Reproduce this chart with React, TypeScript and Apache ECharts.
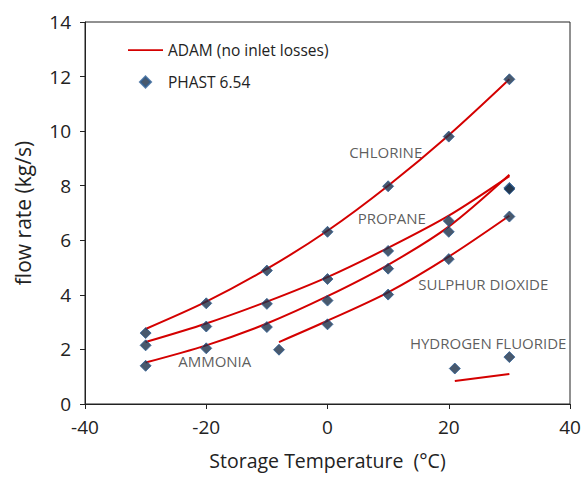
import React, { useEffect, useRef } from "react";
import * as echarts from "echarts";

const temps = [-30, -20, -10, 0, 10, 20, 30];

// ADAM (no inlet losses) model curves
const chlorineAdam = [2.75, 3.75, 4.95, 6.35, 8.0, 9.85, 11.9];
const propaneAdam = [2.27, 2.95, 3.75, 4.65, 5.72, 6.9, 8.35];
const ammoniaAdam = [1.52, 2.15, 2.95, 3.95, 5.1, 6.5, 8.4];
const so2AdamT = [-8, 0, 10, 20, 30];
const so2Adam = [2.27, 3.05, 4.09, 5.4, 6.9];
const hfAdamT = [21, 30];
const hfAdam = [0.84, 1.1];

// PHAST 6.54 points
const chlorinePhast = [2.6, 3.69, 4.89, 6.31, 7.98, 9.8, 11.9];
const propanePhast = [2.15, 2.84, 3.67, 4.58, 5.61, 6.71, 7.92];
const ammoniaPhast = [1.4, 2.04, 2.82, 3.79, 4.96, 6.31, 7.88];
const so2PhastT = [-8, 0, 10, 20, 30];
const so2Phast = [1.99, 2.92, 4.01, 5.31, 6.87];
const hfPhastT = [21, 30];
const hfPhast = [1.3, 1.72];

// Substance labels
const labelNames = ["CHLORINE", "PROPANE", "SULPHUR DIOXIDE", "AMMONIA", "HYDROGEN FLUORIDE"];
const labelX = [9.6, 10.6, 25.7, -18.6, 26.5];
const labelY = [9.25, 6.83, 4.41, 1.56, 2.25];

const xTicks = [-40, -20, 0, 20, 40];
const yTicks = [0, 2, 4, 6, 8, 10, 12, 14];

const ADAM = "ADAM (no inlet losses)";
const PHAST = "PHAST 6.54";
const FONT = "'Open Sans', 'Noto Sans', sans-serif";

const zip = (xs: number[], ys: number[]) => xs.map((x, i) => [x, ys[i]]);

export default function App() {
  const ref = useRef<HTMLDivElement>(null);
  useEffect(() => {
    if (!ref.current) return;
    const chart = echarts.init(ref.current, undefined, { renderer: "svg" });
    const lineSeries = (data: number[][]) => ({
      type: "line",
      name: ADAM,
      data,
      symbol: "none",
      smooth: 0.3,
      lineStyle: { color: "#d40000", width: 2 },
      itemStyle: { color: "#d40000" },
      z: 2,
    });
    const scatterSeries = (data: number[][]) => ({
      type: "scatter",
      name: PHAST,
      data,
      symbol: "diamond",
      symbolSize: 11,
      itemStyle: { color: "#1b2f48", borderColor: "#2e5f95", borderWidth: 1 },
      z: 3,
    });
    chart.setOption({
      animation: false,
      textStyle: { fontFamily: FONT },
      grid: {
        left: 85,
        right: 17,
        top: 22,
        bottom: 78,
        show: true,
        borderColor: "#222",
        borderWidth: 1,
      },
      legend: {
        orient: "vertical",
        left: 123,
        top: 37,
        itemWidth: 35,
        itemHeight: 11,
        itemGap: 16,
        symbolKeepAspect: true,
        textStyle: { fontSize: 15.5, color: "#222", fontFamily: FONT },
        data: [
          { name: ADAM, icon: "path://M0,0H40V2H0Z" },
          { name: PHAST, icon: "path://M5,0L10,5L5,10L0,5Z" },
        ],
      },
      xAxis: {
        type: "value",
        min: xTicks[0],
        max: xTicks[xTicks.length - 1],
        interval: 20,
        name: "Storage Temperature  (°C)",
        nameLocation: "middle",
        nameGap: 46,
        nameTextStyle: { fontSize: 19.5, color: "#222", fontFamily: FONT },
        axisLine: { onZero: false, lineStyle: { color: "#222" } },
        axisTick: { length: 5, lineStyle: { color: "#222" } },
        axisLabel: { fontSize: 19, color: "#222", margin: 13, fontFamily: FONT },
        splitLine: { show: false },
      },
      yAxis: {
        type: "value",
        min: yTicks[0],
        max: yTicks[yTicks.length - 1],
        interval: 2,
        name: "flow rate (kg/s)",
        nameLocation: "middle",
        nameGap: 52,
        nameTextStyle: { fontSize: 21, color: "#222", fontFamily: FONT },
        axisLine: { show: true, onZero: false, lineStyle: { color: "#222" } },
        axisTick: { show: true, length: 5, lineStyle: { color: "#222" } },
        axisLabel: { fontSize: 19, color: "#222", margin: 14, fontFamily: FONT },
        splitLine: { show: false },
      },
      series: [
        lineSeries(zip(temps, chlorineAdam)),
        lineSeries(zip(temps, propaneAdam)),
        lineSeries(zip(temps, ammoniaAdam)),
        lineSeries(zip(so2AdamT, so2Adam)),
        lineSeries(zip(hfAdamT, hfAdam)),
        scatterSeries(zip(temps, chlorinePhast)),
        scatterSeries(zip(temps, propanePhast)),
        scatterSeries(zip(temps, ammoniaPhast)),
        scatterSeries(zip(so2PhastT, so2Phast)),
        scatterSeries(zip(hfPhastT, hfPhast)),
        {
          type: "scatter",
          name: "labels",
          silent: true,
          symbolSize: 0,
          data: labelNames.map((n, i) => ({ name: n, value: [labelX[i], labelY[i]] })),
          label: {
            show: true,
            position: "inside",
            formatter: "{b}",
            fontSize: 15,
            color: "#333",
            fontFamily: FONT,
          },
          z: 1,
        },
      ],
    });
    return () => chart.dispose();
  }, []);
  return (
    <div
      ref={ref}
      style={{ position: "absolute", left: 0, top: 0, width: 587, height: 482 }}
    />
  );
}
